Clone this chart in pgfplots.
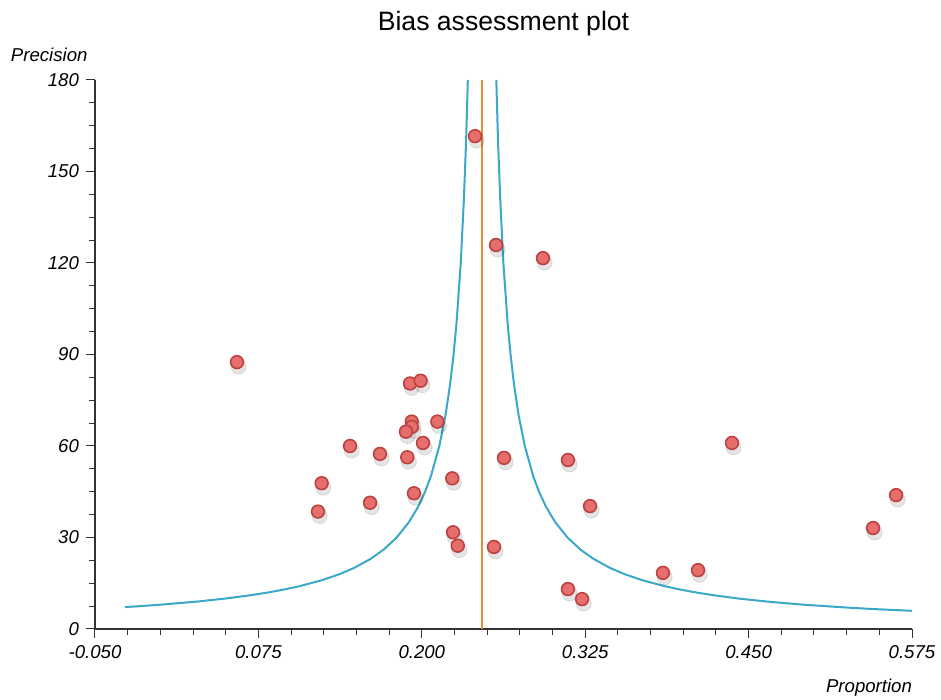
\documentclass[border=0pt]{standalone}
\usepackage{fontspec}
\setmainfont{Liberation Sans}
\usepackage{pgfplots}
\usepackage{pgfplotstable}
\pgfplotsset{compat=1.18}
\definecolor{funnel}{HTML}{3AA8C8}
\definecolor{pooled}{HTML}{F08A30}
\definecolor{study}{HTML}{E66E6C}
\definecolor{studyrim}{HTML}{BC4242}

\pgfplotstableread{
p      prec
0.2407 161.6
0.2568 125.9
0.2927 121.6
0.0586 87.5
0.1910 80.5
0.1991 81.4
0.1923 68.0
0.1923 66.3
0.1879 64.7
0.2119 68.0
0.2009 61.0
0.1451 60.0
0.1680 57.4
0.1889 56.3
0.1234 47.8
0.2233 49.4
0.1940 44.5
0.1604 41.4
0.1206 38.5
0.2239 31.7
0.2275 27.3
0.2552 26.9
0.2629 56.1
0.3118 55.4
0.3287 40.3
0.3118 13.1
0.3226 9.8
0.3845 18.4
0.4113 19.3
0.4373 61.0
0.5452 33.1
0.5628 43.9
}\studies

\begin{document}
\begin{tikzpicture}
\begin{axis}[
  scale only axis,
  width=408.5pt, height=274.5pt,
  xmin=-0.05, xmax=0.575,
  ymin=0, ymax=180,
  axis lines*=left,
  axis line style={black!80, line width=0.6pt},
  tick align=outside,
  major tick length=4.5pt,
  minor tick length=3pt,
  tick style={black!80, line width=0.5pt},
  xtick={-0.05,0.075,0.2,0.325,0.45,0.575},
  minor x tick num=4,
  ytick={0,30,60,90,120,150,180},
  minor y tick num=3,
  x tick label style={/pgf/number format/.cd, fixed, fixed zerofill, precision=3},
  /pgf/number format/assume math mode=true,
  tick label style={font=\fontsize{9.3}{11}\selectfont\itshape},
  title={Bias assessment plot},
  title style={font=\fontsize{13.3}{15}\selectfont, at={(axis description cs:0.5,1)}, anchor=center, yshift=22pt},
  xlabel={Proportion},
  xlabel style={font=\fontsize{9.3}{11}\selectfont\itshape, at={(axis description cs:1.0085,-0.1075)}, anchor=east},
  ylabel={Precision},
  ylabel style={font=\fontsize{9.3}{11}\selectfont\itshape, at={(axis description cs:-0.056,1.045)}, rotate=-90, anchor=center},
]
% funnel limits
\addplot[funnel, line width=1pt] coordinates {
  (-0.0269,7.18) (-0.0152,7.5) (0.0011,8) (0.0283,9) (0.0501,10) (0.0679,11)
  (0.0828,12) (0.0953,13) (0.1061,14) (0.1236,16) (0.1372,18) (0.1481,20)
  (0.1609,23) (0.1707,26) (0.1808,30) (0.1901,35) (0.1971,40) (0.2025,45)
  (0.2069,50) (0.2134,60) (0.2181,70) (0.2216,80) (0.2243,90) (0.2265,100)
  (0.2298,120) (0.2321,140) (0.2339,160) (0.2352,180)
};
\addplot[funnel, line width=1pt] coordinates {
  (0.575,5.96) (0.5476,6.5) (0.5261,7) (0.4911,8) (0.4639,9) (0.4421,10)
  (0.4243,11) (0.4094,12) (0.3969,13) (0.3861,14) (0.3686,16) (0.3550,18)
  (0.3441,20) (0.3313,23) (0.3215,26) (0.3114,30) (0.3021,35) (0.2951,40)
  (0.2897,45) (0.2853,50) (0.2788,60) (0.2741,70) (0.2706,80) (0.2679,90)
  (0.2657,100) (0.2624,120) (0.2601,140) (0.2583,160) (0.2570,180)
};
% pooled estimate
\addplot[pooled, line width=1pt] coordinates {(0.2461,0) (0.2461,180)};
% soft shadows under the study markers
\addplot[only marks, mark=*, mark size=3.8pt,
  mark options={fill=black, draw=none, opacity=0.10, xshift=0.8pt, yshift=-2.2pt}]
  table[x=p, y=prec] {\studies};
% studies
\addplot[only marks, mark=*, mark size=3.2pt,
  mark options={fill=study, draw=studyrim, line width=0.8pt}]
  table[x=p, y=prec] {\studies};
\end{axis}
% match the reference margins around the plot area
\path (current axis.south west) ++(-47.5pt,-35.5pt) coordinate (bbsw);
\path (current axis.north east) ++(14.5pt,40pt) coordinate (bbne);
\pgfresetboundingbox
\path[use as bounding box] (bbsw) rectangle (bbne);
\end{tikzpicture}
\end{document}
